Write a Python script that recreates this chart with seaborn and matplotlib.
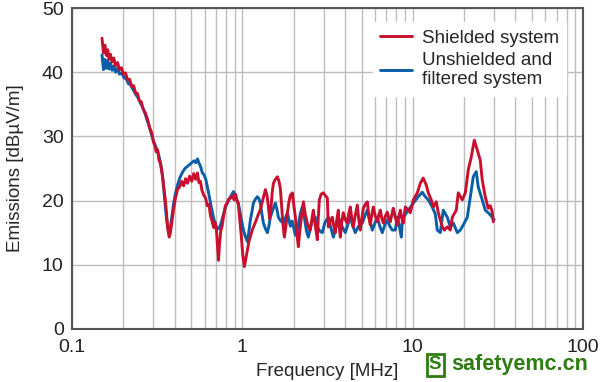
import numpy as np
import pandas as pd
import matplotlib
matplotlib.use("Agg")
import matplotlib.pyplot as plt
from matplotlib.ticker import LogLocator, NullFormatter
import seaborn as sns

# shielded system (red)
red_freq = [0.150, 0.153, 0.156, 0.159, 0.162, 0.165, 0.168, 0.172, 0.176, 0.180,
            0.185, 0.190, 0.195, 0.200, 0.206, 0.212, 0.218, 0.224, 0.230, 0.236,
            0.242, 0.248, 0.255, 0.262, 0.270, 0.278, 0.286, 0.294, 0.300, 0.306,
            0.312, 0.318, 0.324, 0.330, 0.336, 0.342, 0.348, 0.354, 0.360, 0.366,
            0.372, 0.378, 0.386, 0.394, 0.404, 0.416, 0.428, 0.440, 0.452, 0.464,
            0.476, 0.490, 0.504, 0.518, 0.532, 0.545, 0.556, 0.567, 0.580, 0.594,
            0.608, 0.622, 0.636, 0.650, 0.664, 0.678, 0.692, 0.705, 0.716, 0.724,
            0.734, 0.746, 0.760, 0.778, 0.795, 0.812, 0.830, 0.852, 0.874, 0.895,
            0.912, 0.930, 0.947, 0.966, 0.985, 1.005, 1.027, 1.048, 1.070, 1.092,
            1.114, 1.150, 1.192, 1.230, 1.275, 1.320, 1.364, 1.395, 1.421, 1.445,
            1.470, 1.495, 1.520, 1.560, 1.604, 1.640, 1.671, 1.695, 1.717, 1.740,
            1.763, 1.800, 1.836, 1.870, 1.910, 1.964, 2.005, 2.046, 2.090, 2.130,
            2.160, 2.188, 2.220, 2.280, 2.340, 2.405, 2.460, 2.504, 2.560, 2.608,
            2.680, 2.754, 2.790, 2.829, 2.900, 2.985, 3.060, 3.151, 3.194, 3.280,
            3.371, 3.440, 3.510, 3.590, 3.656, 3.700, 3.756, 3.830, 3.910, 4.020,
            4.128, 4.210, 4.298, 4.390, 4.477, 4.600, 4.727, 4.820, 4.921, 5.020,
            5.125, 5.260, 5.410, 5.520, 5.634, 5.760, 5.866, 6.020, 6.192, 6.320,
            6.446, 6.580, 6.714, 6.900, 7.087, 7.230, 7.380, 7.530, 7.684, 7.890,
            8.111, 8.280, 8.447, 8.620, 8.797, 9.036, 9.350, 9.667, 10.07, 10.63,
            11.07, 11.52, 12.00, 12.33, 12.84, 13.19, 13.74, 14.11, 14.50, 14.90,
            15.31, 15.94, 16.60, 17.06, 17.99, 18.49, 19.52, 20.33, 21.17, 22.04,
            22.95, 23.89, 24.88, 25.56, 26.62, 27.72, 28.50, 29.26, 29.66]
red_emis = [45.3, 43.0, 44.2, 42.6, 43.5, 42.0, 42.8, 41.6, 42.2, 41.0,
            41.5, 40.4, 40.7, 39.7, 39.9, 38.8, 38.9, 37.8, 37.9, 36.8,
            36.7, 35.6, 35.4, 34.2, 33.6, 32.6, 31.3, 30.5, 29.2, 28.6,
            27.6, 27.9, 26.3, 25.8, 24.6, 23.2, 21.4, 19.8, 17.5, 15.3,
            14.3, 15.0, 16.8, 18.5, 20.3, 21.7, 22.1, 23.0, 22.3, 23.4,
            22.7, 23.8, 23.0, 24.2, 23.3, 24.3, 22.8, 23.0, 21.5, 20.8,
            20.4, 19.2, 19.4, 17.6, 16.8, 15.8, 16.6, 15.2, 12.5, 10.7,
            13.2, 15.2, 16.0, 17.8, 19.2, 19.6, 20.2, 20.4, 20.7, 20.1,
            21.0, 20.0, 19.4, 17.0, 14.5, 11.5, 9.7, 11.0, 12.4, 13.6,
            14.4, 15.6, 16.6, 17.6, 18.6, 20.2, 21.7, 20.8, 19.0, 17.2,
            18.6, 21.2, 22.7, 23.3, 23.7, 23.0, 21.8, 19.5, 17.5, 15.6,
            14.3, 16.0, 18.0, 19.6, 20.8, 21.2, 19.2, 17.4, 14.8, 12.8,
            14.6, 15.9, 17.5, 19.8, 17.8, 16.5, 15.6, 15.4, 17.2, 18.5,
            16.0, 13.9, 17.5, 20.1, 21.0, 21.2, 20.8, 20.4, 15.9, 16.8,
            17.4, 16.0, 15.0, 17.2, 18.5, 16.0, 14.3, 16.6, 18.1, 17.0,
            16.5, 18.0, 19.0, 17.2, 15.9, 17.8, 19.3, 17.0, 15.4, 17.2,
            18.8, 19.4, 19.8, 17.5, 16.2, 18.0, 19.0, 17.6, 16.7, 17.8,
            18.5, 17.2, 16.5, 17.6, 18.2, 17.2, 16.7, 17.8, 18.8, 17.4,
            16.2, 17.5, 18.5, 17.2, 16.5, 19.0, 18.6, 18.1, 20.1, 21.2,
            22.7, 23.5, 22.4, 21.2, 20.1, 19.0, 19.8, 18.1, 17.0, 15.9,
            15.4, 15.9, 15.4, 17.4, 18.5, 21.2, 20.1, 21.2, 24.8, 26.8,
            29.4, 27.9, 26.3, 23.2, 20.6, 18.8, 19.2, 18.2, 16.7]

# unshielded and filtered system (blue)
blue_freq = [0.150, 0.153, 0.156, 0.159, 0.162, 0.165, 0.168, 0.172, 0.176, 0.180,
             0.185, 0.190, 0.196, 0.202, 0.208, 0.214, 0.220, 0.228, 0.236, 0.244,
             0.252, 0.260, 0.268, 0.276, 0.284, 0.292, 0.300, 0.308, 0.316, 0.324,
             0.332, 0.340, 0.346, 0.352, 0.358, 0.364, 0.370, 0.378, 0.386, 0.394,
             0.404, 0.416, 0.430, 0.445, 0.460, 0.475, 0.490, 0.505, 0.520, 0.533,
             0.545, 0.557, 0.570, 0.582, 0.596, 0.610, 0.624, 0.640, 0.656, 0.676,
             0.695, 0.713, 0.730, 0.746, 0.770, 0.795, 0.822, 0.851, 0.870, 0.886,
             0.910, 0.947, 0.980, 1.014, 1.040, 1.070, 1.092, 1.114, 1.140, 1.160,
             1.190, 1.224, 1.250, 1.275, 1.300, 1.328, 1.365, 1.402, 1.430, 1.459,
             1.510, 1.562, 1.595, 1.626, 1.680, 1.740, 1.790, 1.836, 1.875, 1.912,
             1.960, 2.000, 2.046, 2.102, 2.188, 2.249, 2.320, 2.380, 2.438, 2.520,
             2.608, 2.679, 2.760, 2.860, 2.944, 3.050, 3.194, 3.300, 3.418, 3.530,
             3.656, 3.800, 3.910, 4.018, 4.150, 4.298, 4.450, 4.600, 4.800, 5.057,
             5.230, 5.410, 5.600, 5.787, 5.990, 6.192, 6.400, 6.622, 6.850, 7.087,
             7.330, 7.580, 7.890, 8.111, 8.340, 8.562, 8.678, 8.900, 9.410, 10.07,
             10.77, 11.37, 11.84, 12.33, 13.01, 13.55, 13.92, 14.50, 15.10, 15.94,
             16.60, 17.29, 18.24, 19.00, 19.79, 20.89, 21.75, 22.64, 23.57, 24.22,
             25.56, 26.62, 27.72, 29.26, 30.00]
blue_emis = [42.7, 40.4, 42.0, 40.6, 41.8, 40.5, 41.4, 40.3, 41.0, 40.0,
             40.6, 39.7, 39.9, 39.1, 39.0, 38.2, 38.1, 37.3, 36.6, 36.0,
             35.2, 34.5, 33.6, 32.5, 31.5, 30.4, 29.4, 28.6, 27.9, 26.9,
             25.7, 23.8, 21.6, 19.3, 17.3, 15.8, 15.2, 15.9, 17.6, 19.4,
             21.0, 22.4, 23.6, 24.4, 25.0, 25.3, 25.6, 25.9, 26.2, 25.9,
             26.5, 25.8, 25.2, 24.3, 24.0, 23.3, 22.0, 20.6, 19.0, 17.4,
             16.2, 15.7, 15.6, 16.3, 17.6, 19.0, 19.8, 20.6, 21.0, 21.4,
             20.6, 19.6, 17.4, 15.4, 14.4, 13.6, 15.2, 17.0, 18.4, 19.6,
             20.2, 20.6, 20.3, 19.6, 18.0, 16.5, 15.6, 15.0, 16.0, 17.4,
             18.6, 19.6, 18.6, 17.4, 16.8, 16.5, 17.3, 18.1, 17.0, 16.0,
             16.8, 15.8, 14.6, 15.4, 18.0, 19.0, 17.0, 15.2, 14.3, 16.0,
             17.6, 17.4, 15.8, 15.2, 15.0, 16.6, 17.4, 15.8, 14.3, 15.8,
             17.4, 16.2, 15.6, 15.0, 16.2, 17.4, 16.0, 15.0, 16.0, 16.5,
             17.6, 18.5, 16.8, 15.4, 16.5, 17.4, 16.0, 15.0, 16.2, 17.0,
             16.0, 15.4, 15.4, 17.4, 16.0, 14.3, 16.8, 17.6, 18.5, 19.6,
             20.6, 21.3, 20.6, 20.1, 19.0, 17.9, 15.4, 15.0, 18.5, 17.4,
             15.9, 16.5, 15.0, 15.4, 16.2, 17.4, 20.6, 23.7, 24.5, 22.1,
             20.1, 18.5, 18.1, 17.4, 17.0]

labels = ["Shielded system", "Unshielded and\nfiltered system"]
colors = ["#C8102E", "#0A5EA8"]

df = pd.concat([
    pd.DataFrame({"freq": blue_freq, "emis": blue_emis, "system": labels[1]}),
    pd.DataFrame({"freq": red_freq, "emis": red_emis, "system": labels[0]}),
])

sns.set_style("white")
plt.rcParams['font.family'] = ['Liberation Sans', 'DejaVu Sans']

fig = plt.figure(figsize=(6, 3.82), dpi=100)
ax = fig.add_axes([0.12, 0.139, 0.852, 0.84])

sns.lineplot(data=df, x="freq", y="emis", hue="system",
             hue_order=[labels[1], labels[0]],
             palette={labels[0]: colors[0], labels[1]: colors[1]},
             sort=False, estimator=None, linewidth=2.1, ax=ax, legend=False)

ax.set_xscale("log")
ax.set_xlim(0.1, 100)
ax.set_ylim(0, 50)
ax.set_yticks([0, 10, 20, 30, 40, 50])
ax.set_xticks([0.1, 1, 10, 100])
ax.set_xticklabels(["0.1", "1", "10", "100"])
ax.xaxis.set_minor_locator(LogLocator(base=10, subs=np.arange(2, 10)))
ax.xaxis.set_minor_formatter(NullFormatter())
ax.grid(True, which="both", axis="x", color="#BDBDBD", linewidth=1)
ax.grid(True, which="major", axis="y", color="#BDBDBD", linewidth=1)
ax.set_axisbelow(True)
ax.tick_params(which="both", length=0, labelsize=14, colors="#222222")
ax.tick_params(axis="x", pad=7)
ax.tick_params(axis="y", pad=6)
for s in ax.spines.values():
    s.set_color("#555555")
    s.set_linewidth(1.5)

ax.set_xlabel("Frequency [MHz]", fontsize=13.5, labelpad=5)
ax.set_ylabel("Emissions [dBµV/m]", fontsize=13.5, labelpad=13)

h = [plt.Line2D([], [], color=colors[0], linewidth=2.1),
     plt.Line2D([], [], color=colors[1], linewidth=2.1)]
leg = ax.legend(h, labels, loc="upper right", bbox_to_anchor=(0.985, 0.985),
                fontsize=13.5, frameon=True, fancybox=False, framealpha=1,
                facecolor="white", edgecolor="white", handlelength=1.7,
                handletextpad=0.5, labelspacing=0.25, borderpad=0.4)

# watermark
fig.text(0.725, 0.045, "S", color="#2E7D12", fontsize=13.5, fontweight="bold",
         ha="center", va="center",
         bbox=dict(boxstyle="square,pad=0.12", facecolor="white",
                   edgecolor="#2E7D12", linewidth=2))
fig.text(0.752, 0.045, "safetyemc.cn", color="#2E7D12", fontsize=15.5,
         fontweight="bold", ha="left", va="center")

fig.savefig("out.png", dpi=100)
